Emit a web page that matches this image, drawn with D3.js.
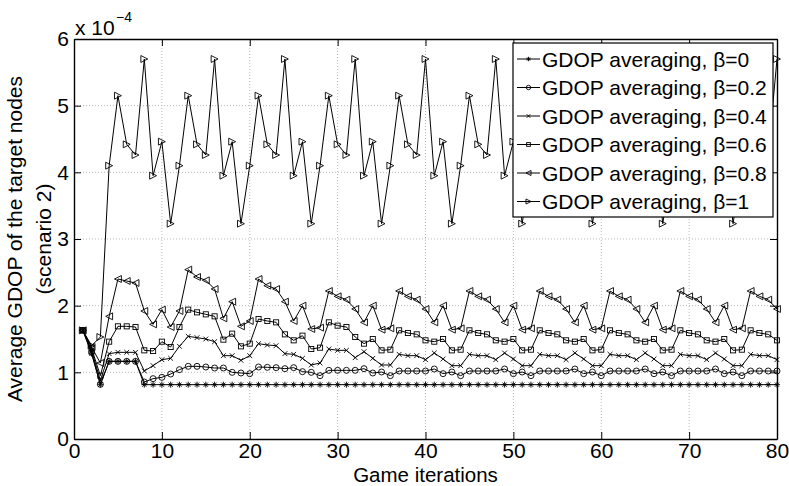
<!DOCTYPE html>
<html>
<head>
<meta charset="utf-8">
<script src="https://cdn.jsdelivr.net/npm/d3@7/dist/d3.min.js"></script>
<style>
  html, body { margin: 0; padding: 0; background: #fff; }
  svg { display: block; }
  text { font-family: "Liberation Sans", Arial, Helvetica, sans-serif; fill: #000; }
</style>
</head>
<body>
<svg id="chart" width="789" height="486"></svg>
<script>
// ---------------- data (values in units of 1e-4) ----------------
const iterations = d3.range(1, 81);

const beta0 = [1.63, 1.28, 0.815, 1.165, 1.165, 1.165, 1.165, 0.815, 0.815, 0.815,
  0.815, 0.815, 0.815, 0.815, 0.815, 0.815, 0.815, 0.815, 0.815, 0.815,
  0.815, 0.815, 0.815, 0.815, 0.815, 0.815, 0.815, 0.815, 0.815, 0.815,
  0.815, 0.815, 0.815, 0.815, 0.815, 0.815, 0.815, 0.815, 0.815, 0.815,
  0.815, 0.815, 0.815, 0.815, 0.815, 0.815, 0.815, 0.815, 0.815, 0.815,
  0.815, 0.815, 0.815, 0.815, 0.815, 0.815, 0.815, 0.815, 0.815, 0.815,
  0.815, 0.815, 0.815, 0.815, 0.815, 0.815, 0.815, 0.815, 0.815, 0.815,
  0.815, 0.815, 0.815, 0.815, 0.815, 0.815, 0.815, 0.815, 0.815, 0.815];

const beta02 = [1.63, 1.30, 0.82, 1.165, 1.165, 1.165, 1.165, 0.855, 0.905, 0.925,
  0.975, 1.04, 1.09, 1.09, 1.08, 1.065, 1.065, 1.00, 0.99, 0.98,
  1.08, 1.075, 1.07, 1.055, 1.07, 1.01, 1.00, 0.95, 1.03, 1.03,
  1.03, 1.03, 1.055, 0.99, 1.005, 0.95, 1.02, 1.02, 1.02, 1.02,
  1.05, 0.98, 1.005, 0.95, 1.02, 1.02, 1.02, 1.02, 1.05, 0.98,
  1.005, 0.95, 1.02, 1.02, 1.02, 1.02, 1.05, 0.98, 1.005, 0.95,
  1.02, 1.02, 1.02, 1.02, 1.05, 0.98, 1.005, 0.95, 1.02, 1.02,
  1.02, 1.02, 1.05, 0.98, 1.005, 0.95, 1.02, 1.02, 1.02, 1.02];

const beta04 = [1.63, 1.33, 0.88, 1.28, 1.30, 1.30, 1.30, 1.02, 1.10, 1.19,
  1.21, 1.39, 1.54, 1.52, 1.50, 1.46, 1.25, 1.25, 1.18, 1.25,
  1.43, 1.41, 1.40, 1.28, 1.27, 1.21, 1.11, 1.14, 1.35, 1.33,
  1.33, 1.22, 1.31, 1.21, 1.11, 1.11, 1.27, 1.25, 1.25, 1.19,
  1.29, 1.20, 1.10, 1.10, 1.27, 1.25, 1.25, 1.19, 1.29, 1.20,
  1.10, 1.10, 1.27, 1.25, 1.25, 1.19, 1.29, 1.20, 1.10, 1.10,
  1.27, 1.25, 1.25, 1.19, 1.29, 1.20, 1.10, 1.10, 1.27, 1.25,
  1.25, 1.19, 1.29, 1.20, 1.10, 1.10, 1.27, 1.25, 1.25, 1.19];

const beta06 = [1.63, 1.36, 0.95, 1.46, 1.69, 1.69, 1.68, 1.33, 1.32, 1.46,
  1.38, 1.68, 1.94, 1.90, 1.87, 1.84, 1.49, 1.58, 1.39, 1.43,
  1.80, 1.77, 1.75, 1.57, 1.48, 1.55, 1.35, 1.37, 1.75, 1.70,
  1.68, 1.53, 1.43, 1.50, 1.33, 1.34, 1.63, 1.59, 1.57, 1.48,
  1.46, 1.50, 1.33, 1.34, 1.63, 1.59, 1.57, 1.48, 1.46, 1.50,
  1.33, 1.34, 1.63, 1.59, 1.57, 1.48, 1.46, 1.50, 1.33, 1.34,
  1.63, 1.59, 1.57, 1.48, 1.46, 1.50, 1.33, 1.34, 1.63, 1.59,
  1.57, 1.48, 1.46, 1.50, 1.33, 1.34, 1.63, 1.59, 1.57, 1.48];

const beta08 = [1.63, 1.38, 1.14, 1.84, 2.40, 2.37, 2.34, 1.92, 1.72, 1.94,
  1.68, 1.92, 2.54, 2.43, 2.38, 2.25, 1.81, 2.06, 1.69, 1.77,
  2.40, 2.30, 2.25, 2.06, 1.77, 2.00, 1.65, 1.67, 2.22, 2.14,
  2.09, 1.95, 1.75, 2.00, 1.64, 1.66, 2.22, 2.14, 2.09, 1.95,
  1.75, 2.00, 1.64, 1.66, 2.22, 2.14, 2.09, 1.95, 1.75, 2.00,
  1.64, 1.66, 2.22, 2.14, 2.09, 1.95, 1.75, 2.00, 1.64, 1.66,
  2.22, 2.14, 2.09, 1.95, 1.75, 2.00, 1.64, 1.66, 2.22, 2.14,
  2.09, 1.95, 1.75, 2.00, 1.64, 1.66, 2.22, 2.14, 2.09, 1.95];

const beta1 = [1.63, 1.40, 1.53, 4.10, 5.15, 4.42, 4.26, 5.70, 3.95, 4.46,
  3.23, 4.10, 5.15, 4.42, 4.26, 5.70, 3.95, 4.46, 3.23, 4.10,
  5.15, 4.42, 4.26, 5.70, 3.95, 4.46, 3.23, 4.10, 5.15, 4.42,
  4.26, 5.70, 3.95, 4.46, 3.23, 4.10, 5.15, 4.42, 4.26, 5.70,
  3.95, 4.46, 3.23, 4.10, 5.15, 4.42, 4.26, 5.70, 3.95, 4.46,
  3.23, 4.10, 5.15, 4.42, 4.26, 5.70, 3.95, 4.46, 3.23, 4.10,
  5.15, 4.42, 4.26, 5.70, 3.95, 4.46, 3.23, 4.10, 5.15, 4.42,
  4.26, 5.70, 3.95, 4.46, 3.23, 4.10, 5.15, 4.42, 4.26, 5.70];

const seriesNames = ["GDOP averaging, β=0", "GDOP averaging, β=0.2", "GDOP averaging, β=0.4",
  "GDOP averaging, β=0.6", "GDOP averaging, β=0.8", "GDOP averaging, β=1"];
const seriesValues = [beta0, beta02, beta04, beta06, beta08, beta1];
const seriesMarkers = ["star", "circle", "x", "square", "triLeft", "triRight"];

const xTicks = [0, 10, 20, 30, 40, 50, 60, 70, 80];
const yTicks = [0, 1, 2, 3, 4, 5, 6];
const xLabel = "Game iterations";
const yLabelLines = ["Average GDOP of the target nodes", "(scenario 2)"];
const exponentBase = "x 10";
const exponentPower = "−4";

// ---------------- layout ----------------
const svg = d3.select("#chart");
const L = 74, R = 777, T = 39, B = 439;
const x = d3.scaleLinear().domain([0, 80]).range([L, R]);
const y = d3.scaleLinear().domain([0, 6]).range([B, T]);
const FS = 21;

// grid
const grid = svg.append("g").attr("stroke", "#b8b8b8").attr("stroke-width", 1).attr("stroke-dasharray", "1,2");
xTicks.filter(v => v > 0 && v < 80).forEach(v => {
  grid.append("line").attr("x1", x(v)).attr("x2", x(v)).attr("y1", T).attr("y2", B);
});
yTicks.filter(v => v > 0 && v < 6).forEach(v => {
  grid.append("line").attr("x1", L).attr("x2", R).attr("y1", y(v)).attr("y2", y(v));
});

// series lines
const lineGen = d3.line().x((d, i) => x(iterations[i])).y(d => y(d));
const plot = svg.append("g");
seriesValues.forEach(vals => {
  plot.append("path").datum(vals).attr("d", lineGen)
    .attr("fill", "none").attr("stroke", "#000").attr("stroke-width", 1);
});

function drawMarker(g, type, cx, cy, s) {
  const st = { stroke: "#000", "stroke-width": 0.9, fill: "none" };
  let el;
  if (type === "circle") {
    el = g.append("circle").attr("cx", cx).attr("cy", cy).attr("r", s);
  } else if (type === "square") {
    el = g.append("rect").attr("x", cx - s * 0.85).attr("y", cy - s * 0.85).attr("width", s * 1.7).attr("height", s * 1.7);
  } else if (type === "x") {
    const h = s * 0.8;
    el = g.append("path").attr("d", `M${cx - h},${cy - h}L${cx + h},${cy + h}M${cx - h},${cy + h}L${cx + h},${cy - h}`);
  } else if (type === "star") {
    const h = s, d = s * 0.7;
    el = g.append("path").attr("d",
      `M${cx - h},${cy}L${cx + h},${cy}M${cx},${cy - h}L${cx},${cy + h}` +
      `M${cx - d},${cy - d}L${cx + d},${cy + d}M${cx - d},${cy + d}L${cx + d},${cy - d}`);
  } else if (type === "triLeft") {
    const h = s * 1.15;
    el = g.append("path").attr("d", `M${cx - h},${cy}L${cx + h},${cy - h}L${cx + h},${cy + h}Z`);
  } else if (type === "triRight") {
    const h = s * 1.15;
    el = g.append("path").attr("d", `M${cx + h},${cy}L${cx - h},${cy - h}L${cx - h},${cy + h}Z`);
  }
  Object.entries(st).forEach(([k, v]) => el.attr(k, v));
}

seriesValues.forEach((vals, si) => {
  const g = plot.append("g");
  vals.forEach((v, i) => drawMarker(g, seriesMarkers[si], x(iterations[i]), y(v), 3));
});

// axes
const axes = svg.append("g");
const fmt = d3.format("d");
const ab = axes.append("g").attr("transform", `translate(0,${B})`)
  .call(d3.axisBottom(x).tickValues(xTicks).tickFormat(fmt).tickSizeInner(-7).tickSizeOuter(0).tickPadding(4.5));
const at = axes.append("g").attr("transform", `translate(0,${T})`)
  .call(d3.axisTop(x).tickValues(xTicks).tickFormat("").tickSizeInner(-7).tickSizeOuter(0));
const al = axes.append("g").attr("transform", `translate(${L},0)`)
  .call(d3.axisLeft(y).tickValues(yTicks).tickFormat(fmt).tickSizeInner(-7).tickSizeOuter(0).tickPadding(5));
const ar = axes.append("g").attr("transform", `translate(${R},0)`)
  .call(d3.axisRight(y).tickValues(yTicks).tickFormat("").tickSizeInner(-7).tickSizeOuter(0));
[ab, at, al, ar].forEach(a => {
  a.selectAll("path.domain").attr("stroke", "#000").attr("stroke-width", 1.4);
  a.selectAll(".tick line").attr("stroke", "#000").attr("stroke-width", 1);
  a.selectAll("text").attr("font-size", FS).attr("font-family", "Liberation Sans, Arial, sans-serif").attr("fill", "#000");
});

// exponent label
svg.append("text").attr("x", 75).attr("y", 35).attr("font-size", FS).text(exponentBase);
svg.append("text").attr("x", 116).attr("y", 22).attr("font-size", 14).text(exponentPower);

// axis titles
svg.append("text").attr("x", (L + R) / 2).attr("y", 482).attr("text-anchor", "middle")
  .attr("font-size", 20.5).text(xLabel);
const yl = svg.append("text").attr("transform", `translate(22,${(T + B) / 2}) rotate(-90)`)
  .attr("text-anchor", "middle").attr("font-size", FS);
yl.append("tspan").attr("x", 0).attr("y", 0).text(yLabelLines[0]);
yl.append("tspan").attr("x", 0).attr("y", 29).text(yLabelLines[1]);

// legend
const lg = svg.append("g");
const lgX = 513, lgY = 43, lgW = 260, lgH = 174;
lg.append("rect").attr("x", lgX).attr("y", lgY).attr("width", lgW).attr("height", lgH)
  .attr("fill", "#fff").attr("stroke", "#000").attr("stroke-width", 1.2);
seriesNames.forEach((name, i) => {
  const cy = 59 + i * 28.5;
  lg.append("line").attr("x1", 517).attr("x2", 540).attr("y1", cy).attr("y2", cy)
    .attr("stroke", "#000").attr("stroke-width", 1);
  drawMarker(lg, seriesMarkers[i], 528.5, cy, 2.2);
  lg.append("text").attr("x", 542).attr("y", cy).attr("dy", "0.36em").attr("font-size", FS).text(name);
});
</script>
</body>
</html>
